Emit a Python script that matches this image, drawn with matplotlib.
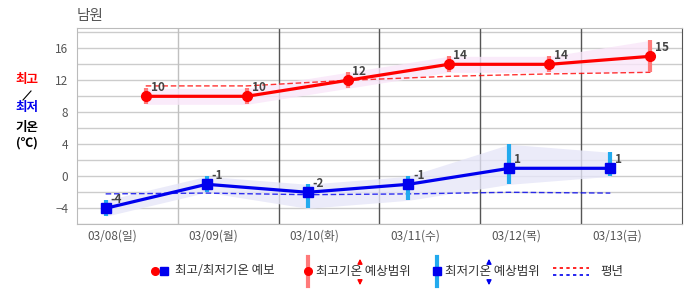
import matplotlib
matplotlib.use('Agg')
import matplotlib.pyplot as plt
from matplotlib.lines import Line2D
from matplotlib.patches import FancyArrowPatch
import numpy as np

plt.rcParams['font.family'] = ['Noto Sans CJK KR', 'DejaVu Sans']

# forecast data (Namwon)
days = ['03/08(일)', '03/09(월)', '03/10(화)', '03/11(수)', '03/12(목)', '03/13(금)']
tmax = [10, 10, 12, 14, 14, 15]
tmax_lo = [9, 9, 11, 13, 13, 13]
tmax_hi = [11, 11, 13, 15, 15, 17]
tmin = [-4, -1, -2, -1, 1, 1]
tmin_lo = [-5, -2, -4, -3, -1, 0]
tmin_hi = [-3, 0, -1, 0, 4, 3]
norm_max = [11.3, 11.3, 12.0, 12.5, 12.8, 13.0]
norm_min = [-2.2, -2.1, -2.3, -2.2, -2.0, -2.1]

RED = '#ff0000'
BLUE = '#0000ee'
RED_BAR = '#ff7a7a'
BLUE_BAR = '#22aaee'
GRAY = '#555555'

fig = plt.figure(figsize=(6.86, 2.95), dpi=100)
ax = fig.add_axes([0.1118, 0.2397, 0.8828, 0.6643])

n = len(days)
idx = np.arange(n)
xr = idx + 0.684   # max temp marks sit late in the day band
xb = idx + 0.287   # min temp marks early

ax.set_xlim(0, n)
ax.set_ylim(-6, 18.5)

# grid
for y in np.arange(-6, 19, 2):
    ax.axhline(y, color='#cccccc', lw=1, zorder=0)
for i in range(1, n):
    ax.axvline(i, color='#c0c0c0' if i == 1 else '#555555', lw=1, zorder=0)

for s in ['left', 'top', 'bottom']:
    ax.spines[s].set_color('#bbbbbb')
ax.spines['right'].set_color('#555555')

ax.set_yticks([-4, 0, 4, 8, 12, 16])
ax.set_yticklabels(['\u22124', '0', '4', '8', '12', '16'])
ax.set_xticks(idx + 0.355)
ax.set_xticklabels(days)
ax.tick_params(length=0, labelsize=8.5, labelcolor=GRAY, pad=4)
ax.tick_params(axis='y', pad=6)

# shaded ranges
ax.fill_between(xr, tmax_lo, tmax_hi, color='#f9e6f9', alpha=0.8, lw=0, zorder=1)
ax.fill_between(xb, tmin_lo, tmin_hi, color='#e6e6f8', alpha=0.8, lw=0, zorder=1)

# normals
ax.plot(xr, norm_max, color=RED, lw=1, ls=(0, (4, 2)), alpha=0.8, zorder=2)
ax.plot(xb, norm_min, color=BLUE, lw=1, ls=(0, (4, 2)), alpha=0.8, zorder=2)

# range bars
ax.vlines(xr, tmax_lo, tmax_hi, color=RED_BAR, lw=3, zorder=3)
ax.vlines(xb, tmin_lo, tmin_hi, color=BLUE_BAR, lw=3, zorder=3)

# forecast lines
ax.plot(xr, tmax, color=RED, lw=2.3, marker='o', ms=7, zorder=4)
ax.plot(xb, tmin, color=BLUE, lw=2.3, marker='s', ms=7, zorder=4)

for x, v in zip(xr, tmax):
    ax.annotate(str(v), (x, v), xytext=(3.5, 6.5), textcoords='offset points',
                ha='left', va='center', fontsize=8.5, fontweight='bold', color='#444444', zorder=5)
for x, v in zip(xb, tmin):
    ax.annotate(str(v), (x, v), xytext=(3.5, 6.5), textcoords='offset points',
                ha='left', va='center', fontsize=8.5, fontweight='bold', color='#444444', zorder=5)

# title
fig.text(77 / 686, 1 - 16 / 295, '남원', fontsize=10.5, color=GRAY, ha='left', va='center')


def fx(x):
    return x / 686


def fy(y):
    return 1 - y / 295


# left axis label
def ftxt(x, y, s, **kw):
    fig.text(fx(x), fy(y), s, ha='center', va='center', **kw)


ftxt(27, 80, '최고', color=RED, fontsize=9, fontweight='bold')
fig.add_artist(Line2D([fx(23), fx(31)], [fy(100), fy(91)], color='black', lw=0.8))
ftxt(27, 108, '최저', color=BLUE, fontsize=9, fontweight='bold')
ftxt(27, 127, '기온', color='black', fontsize=9, fontweight='bold')
ftxt(27, 143, '(℃)', color='black', fontsize=9, fontweight='bold')

# legend
ly = 271
fig.add_artist(Line2D([fx(155)], [fy(ly)], marker='o', ms=5.5, color=RED, lw=0))
fig.add_artist(Line2D([fx(164)], [fy(ly)], marker='s', ms=5.2, color=BLUE, lw=0))
fig.text(fx(175), fy(ly), '최고/최저기온 예보', fontsize=9, color='#333333', va='center')

fig.add_artist(Line2D([fx(308), fx(308)], [fy(257), fy(286)], color=RED_BAR, lw=3))
fig.add_artist(Line2D([fx(308)], [fy(ly)], marker='o', ms=5.5, color=RED, lw=0))
fig.text(fx(316), fy(ly), '최고기온 예상범위', fontsize=9, color='#333333', va='center')

fig.add_artist(Line2D([fx(437), fx(437)], [fy(257), fy(286)], color=BLUE_BAR, lw=3))
fig.add_artist(Line2D([fx(437)], [fy(ly)], marker='s', ms=5.2, color=BLUE, lw=0))
fig.text(fx(445), fy(ly), '최저기온 예상범위', fontsize=9, color='#333333', va='center')

for x, c in [(360, RED), (489, BLUE)]:
    fig.add_artist(FancyArrowPatch((fx(x), fy(266)), (fx(x), fy(256)),
                   arrowstyle='-|>', mutation_scale=7, color=c, lw=1))
    fig.add_artist(FancyArrowPatch((fx(x), fy(278)), (fx(x), fy(288)),
                   arrowstyle='-|>', mutation_scale=7, color=c, lw=1))

fig.add_artist(Line2D([fx(553), fx(589)], [fy(268), fy(268)], color=RED, lw=1.2, ls=(0, (2, 2))))
fig.add_artist(Line2D([fx(553), fx(589)], [fy(275), fy(275)], color=BLUE, lw=1.2, ls=(0, (2, 2))))
fig.text(fx(600), fy(ly), '평년', fontsize=9, color='#333333', va='center')

fig.savefig('out.png', dpi=100)
